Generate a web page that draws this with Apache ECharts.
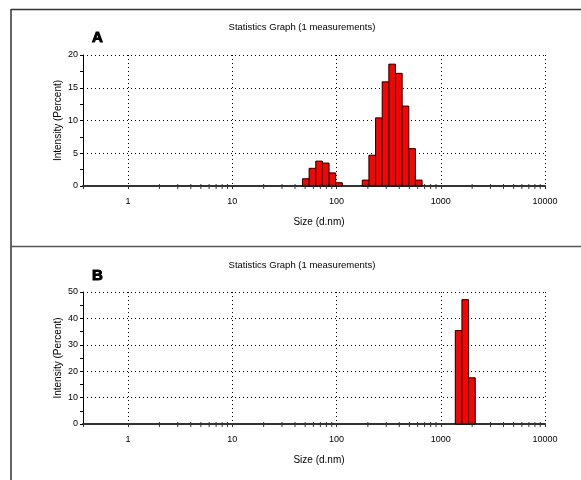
<!DOCTYPE html>
<html>
<head>
<meta charset="utf-8">
<script src="https://cdn.jsdelivr.net/npm/echarts@6/dist/echarts.min.js"></script>
<style>
html,body{margin:0;padding:0;background:#fff;}
#chart{width:581px;height:480px;}
</style>
</head>
<body>
<div id="chart"></div>
<script>
// ---- data (Zetasizer size classes, nm) ----
const TITLE = 'Statistics Graph (1 measurements)';
const PANEL_LABELS = ['A', 'B'];
const SIZES_A = [50.75, 58.77, 68.06, 78.82, 91.28, 105.7, 190.1, 220.2, 255.0, 295.3, 342.0, 396.1, 458.7, 531.2, 615.1];
const INTENSITY_A = [1.1, 2.7, 3.8, 3.5, 2.0, 0.5, 0.9, 4.7, 10.4, 15.9, 18.6, 17.2, 12.2, 5.7, 0.9];
const SIZES_B = [1484, 1718, 1990];
const INTENSITY_B = [35.4, 47.1, 17.5];
const X_DECADES = [1, 10, 100, 1000, 10000];
const MINOR_MULT = [2, 3, 4, 5, 6, 7, 8, 9];
const BIN_RATIO = 1.1581; // ratio between neighbouring size classes
const X_MIN = 0.37, X_MAX = 10000;
const Y_MAX = [20, 50];
const Y_INTERVAL = [5, 10];

const minorTicks = [];
X_DECADES.slice(0, -1).forEach(d => MINOR_MULT.forEach(m => minorTicks.push([d * m, 0])));

const FONT = 'Liberation Sans, Arial, sans-serif';
const chart = echarts.init(document.getElementById('chart'), null, {renderer: 'canvas'});

const grids = [
  {left: 83, right: 36, top: 55, height: 131},
  {left: 83, right: 36, top: 292, height: 132}
];

function xAxisFor(i) {
  return {
    type: 'log', logBase: 10, gridIndex: i, min: X_MIN, max: X_MAX,
    name: 'Size (d.nm)', nameLocation: 'middle', nameGap: 31, nameMoveOverlap: false,
    nameTextStyle: {fontFamily: FONT, fontSize: 10, color: '#000', padding: [0, 0, 0, 10]},
    axisLine: {show: true, onZero: false, lineStyle: {color: '#333', width: 2}},
    axisTick: {show: true, length: 3, lineStyle: {color: '#333'}},
    axisLabel: {
      fontFamily: FONT, fontSize: 9, color: '#000', margin: 11,
      formatter: v => {
        const l = Math.log10(v);
        return Math.abs(l - Math.round(l)) < 1e-6 && v >= 1 ? String(Math.round(v)) : '';
      }
    },
    splitLine: {show: true, lineStyle: {color: '#000', width: 1, type: [1, 3]}},
    minorTick: {show: false}
  };
}
function yAxisFor(i) {
  return {
    type: 'value', gridIndex: i, min: 0, max: Y_MAX[i], interval: Y_INTERVAL[i],
    name: 'Intensity (Percent)', nameLocation: 'middle', nameGap: 20, nameMoveOverlap: false,
    nameTextStyle: {fontFamily: FONT, fontSize: 10, color: '#000'},
    axisLine: {show: true, lineStyle: {color: '#000', width: 1}},
    axisTick: {show: true, length: 3, lineStyle: {color: '#000'}},
    minorTick: {show: true, splitNumber: 2, length: 3, lineStyle: {color: '#000'}},
    axisLabel: {fontFamily: FONT, fontSize: 9, color: '#000', margin: 5},
    splitLine: {show: true, lineStyle: {color: '#000', width: 1, type: [1, 3]}}
  };
}

function barRender(params, api) {
  const c = api.value(0), v = api.value(1);
  const h = Math.sqrt(BIN_RATIO);
  const p0 = api.coord([c / h, v]);
  const p1 = api.coord([c * h, 0]);
  return {
    type: 'rect',
    shape: {x: p0[0], y: p0[1], width: p1[0] - p0[0], height: p1[1] - p0[1]},
    style: {fill: '#ff0000', stroke: '#000', lineWidth: 1}
  };
}
function tickRender(params, api) {
  const p = api.coord([api.value(0), 0]);
  return {
    type: 'line',
    shape: {x1: p[0], y1: p[1] - 2, x2: p[0], y2: p[1] + 3},
    style: {stroke: '#333', lineWidth: 1}
  };
}

const series = [];
[[SIZES_A, INTENSITY_A], [SIZES_B, INTENSITY_B]].forEach((d, i) => {
  series.push({
    type: 'custom', xAxisIndex: i, yAxisIndex: i, renderItem: barRender,
    data: d[0].map((s, k) => [s, d[1][k]]), encode: {x: 0, y: 1}, clip: false, z: 3
  });
  series.push({
    type: 'custom', xAxisIndex: i, yAxisIndex: i, renderItem: tickRender,
    data: minorTicks, encode: {x: 0, y: 1}, clip: false, silent: true, z: 4
  });
});

const graphic = [
  {type: 'line', shape: {x1: 11, y1: 9.5, x2: 581, y2: 9.5}, style: {stroke: '#333', lineWidth: 1.5}},
  {type: 'line', shape: {x1: 11, y1: 9, x2: 11, y2: 480}, style: {stroke: '#333', lineWidth: 1.5}},
  {type: 'line', shape: {x1: 11, y1: 246.5, x2: 581, y2: 246.5}, style: {stroke: '#555', lineWidth: 1.5}},
  {type: 'text', x: 302, y: 27, style: {text: TITLE, font: '9.5px ' + FONT, fill: '#000', textAlign: 'center', textVerticalAlign: 'middle'}},
  {type: 'text', x: 302, y: 265, style: {text: TITLE, font: '9.5px ' + FONT, fill: '#000', textAlign: 'center', textVerticalAlign: 'middle'}},
  {type: 'text', x: 92, y: 38, style: {text: PANEL_LABELS[0], font: 'bold 15px ' + FONT, fill: '#000', stroke: '#000', lineWidth: 1, textAlign: 'left', textVerticalAlign: 'middle'}},
  {type: 'text', x: 92, y: 276, style: {text: PANEL_LABELS[1], font: 'bold 15px ' + FONT, fill: '#000', stroke: '#000', lineWidth: 1, textAlign: 'left', textVerticalAlign: 'middle'}}
];

chart.setOption({
  animation: false,
  backgroundColor: '#fff',
  grid: grids,
  xAxis: [xAxisFor(0), xAxisFor(1)],
  yAxis: [yAxisFor(0), yAxisFor(1)],
  series: series,
  graphic: graphic
});
</script>
</body>
</html>
